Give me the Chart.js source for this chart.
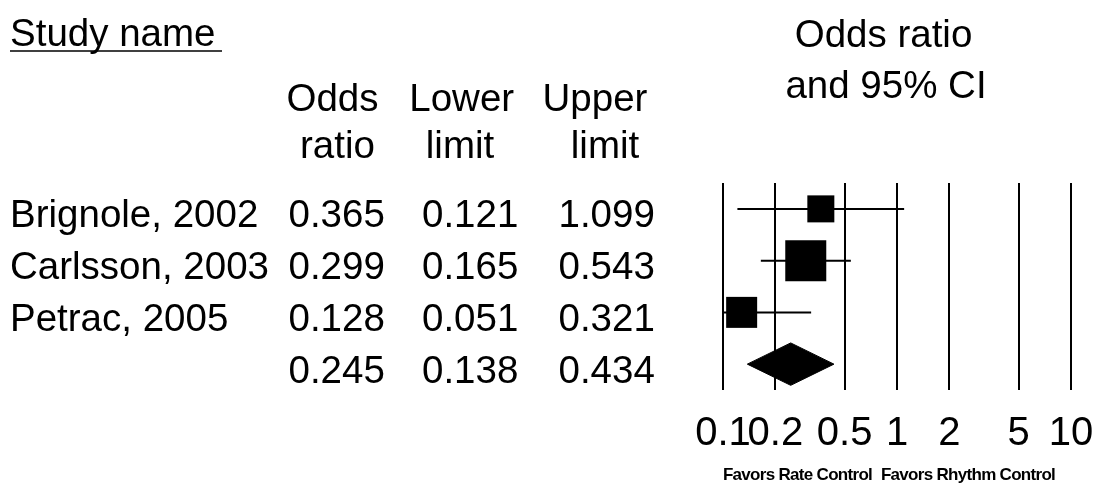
<!DOCTYPE html>
<html>
<head>
<meta charset="utf-8">
<title>Odds ratio and 95% CI</title>
<script src="https://cdn.jsdelivr.net/npm/chart.js@4.4.1/dist/chart.umd.min.js"></script>
<style>
  html, body { margin: 0; padding: 0; background: #fff; }
  #wrap { width: 1094px; height: 483px; }
</style>
</head>
<body>
<div id="wrap"><canvas id="forest" width="1094" height="483"></canvas></div>
<script>
// Study-level results
const studies = ['Brignole, 2002', 'Carlsson, 2003', 'Petrac, 2005'];
const oddsRatio = [0.365, 0.299, 0.128];
const lowerLimit = [0.121, 0.165, 0.051];
const upperLimit = [1.099, 0.543, 0.321];

// Pooled estimate
const summaryOR = 0.245;
const summaryLower = 0.138;
const summaryUpper = 0.434;

// Log axis ticks
const tickValues = [0.1, 0.2, 0.5, 1, 2, 5, 10];
const tickLabels = ['0.1', '0.2', '0.5', '1', '2', '5', '10'];

// Styling
const FONT = '"Liberation Sans", Arial, Helvetica, sans-serif';
const boxSide = [27, 41, 31];          // square marker side in px (study weight)
const diamondHalf = 0.41;               // half height of pooled diamond, in row units
const summaryRow = studies.length + 1;

const squares = {
  label: 'Odds ratio',
  data: oddsRatio.map((v, i) => ({ x: v, y: i + 1 })),
  pointStyle: 'rect',
  pointRadius: boxSide.map(s => s / (2 * Math.SQRT1_2)),
  pointHoverRadius: boxSide.map(s => s / (2 * Math.SQRT1_2)),
  backgroundColor: '#000',
  borderWidth: 0,
  pointBorderWidth: 0,
  showLine: false
};

const ciLines = studies.map((s, i) => ({
  label: s,
  data: [{ x: lowerLimit[i], y: i + 1 }, { x: upperLimit[i], y: i + 1 }],
  showLine: true,
  borderColor: '#000',
  borderWidth: 2,
  pointRadius: 0,
  pointHoverRadius: 0,
  fill: false
}));

const diamond = {
  label: 'Pooled',
  data: [
    { x: summaryLower, y: summaryRow },
    { x: summaryOR, y: summaryRow - diamondHalf },
    { x: summaryUpper, y: summaryRow },
    { x: summaryOR, y: summaryRow + diamondHalf },
    { x: summaryLower, y: summaryRow }
  ],
  showLine: true,
  fill: 'shape',
  backgroundColor: '#000',
  borderColor: '#000',
  borderWidth: 1,
  pointRadius: 0,
  pointHoverRadius: 0,
  tension: 0
};

// Table columns and headings drawn beside the plot
const tableText = {
  id: 'tableText',
  afterDraw(chart) {
    const ctx = chart.ctx;
    const y = chart.scales.y;
    ctx.save();
    ctx.fillStyle = '#000';
    ctx.strokeStyle = '#000';
    ctx.textBaseline = 'alphabetic';
    ctx.font = '38.5px ' + FONT;

    // "Study name" with underline
    ctx.textAlign = 'left';
    ctx.fillText('Study name', 10, 46);
    ctx.lineWidth = 1.6;
    ctx.beginPath();
    ctx.moveTo(10, 51);
    ctx.lineTo(222, 51);
    ctx.stroke();

    // Column headings
    ctx.textAlign = 'center';
    ctx.fillText('Odds', 332.5, 111);
    ctx.fillText('ratio', 337.5, 158);
    ctx.fillText('Lower', 461.7, 111);
    ctx.fillText('limit', 460, 158);
    ctx.fillText('Upper', 595, 111);
    ctx.fillText('limit', 605, 158);

    // Plot heading
    ctx.fillText('Odds ratio', 883.5, 47);
    ctx.fillText('and 95% CI', 886, 98);

    // Rows
    const colX = [288.5, 422, 558.5];
    const rowBase = r => y.getPixelForValue(r) + 18.5;
    ctx.textAlign = 'left';
    studies.forEach((name, i) => {
      const b = rowBase(i + 1);
      ctx.fillText(name, 10, b);
      ctx.fillText(oddsRatio[i].toFixed(3), colX[0], b);
      ctx.fillText(lowerLimit[i].toFixed(3), colX[1], b);
      ctx.fillText(upperLimit[i].toFixed(3), colX[2], b);
    });
    const bs = rowBase(summaryRow);
    ctx.fillText(summaryOR.toFixed(3), colX[0], bs);
    ctx.fillText(summaryLower.toFixed(3), colX[1], bs);
    ctx.fillText(summaryUpper.toFixed(3), colX[2], bs);

    // Direction labels under the axis
    ctx.font = 'bold 17px ' + FONT;
    if ('letterSpacing' in ctx) ctx.letterSpacing = '-0.7px';
    ctx.textAlign = 'center';
    ctx.fillText('Favors Rate Control', 797.5, 480);
    ctx.fillText('Favors Rhythm Control', 968, 480);
    ctx.restore();
  }
};

new Chart(document.getElementById('forest'), {
  type: 'scatter',
  data: { datasets: [squares, ...ciLines, diamond] },
  options: {
    responsive: false,
    animation: false,
    devicePixelRatio: 1,
    events: [],
    layout: { autoPadding: false, padding: { left: 723, right: 23, top: 183, bottom: 0 } },
    plugins: { legend: { display: false }, tooltip: { enabled: false } },
    scales: {
      x: {
        type: 'logarithmic',
        min: 0.1,
        max: 10,
        afterBuildTicks: s => { s.ticks = tickValues.map(v => ({ value: v })); },
        afterFit: s => { s.height = 93; s.paddingLeft = 0; s.paddingRight = 0; },
        border: { display: false },
        grid: { color: '#000', lineWidth: 2, drawTicks: false, drawOnChartArea: true },
        ticks: {
          autoSkip: false,
          maxRotation: 0,
          minRotation: 0,
          padding: 20,
          color: '#000',
          font: { family: FONT, size: 40 },
          callback: v => {
            const k = tickValues.indexOf(v);
            return k >= 0 ? tickLabels[k] : '';
          }
        }
      },
      y: {
        type: 'linear',
        display: false,
        min: 0.5,
        max: summaryRow + 0.5,
        reverse: true
      }
    }
  },
  plugins: [tableText]
});
</script>
</body>
</html>
